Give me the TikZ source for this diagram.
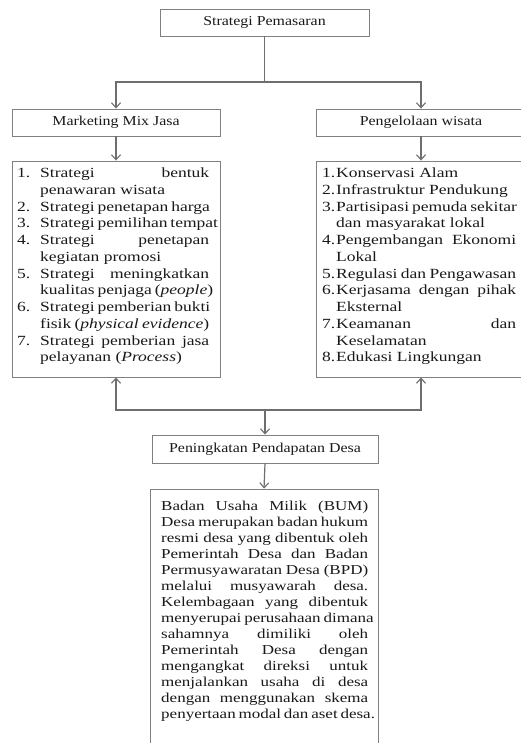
\documentclass[tikz,border=0pt]{standalone}
\usepackage{fontspec}
\setmainfont{Liberation Serif}[FakeStretch=1.17, ItalicFont={* Italic}]
\newfontfamily\listfont{Liberation Serif}[FakeStretch=1.25, ItalicFont={* Italic}]
\usetikzlibrary{arrows.meta,calc}
\definecolor{ln}{RGB}{110,110,110}
\definecolor{bx}{RGB}{128,128,128}
\definecolor{tx}{RGB}{25,25,25}
\tikzset{
  box/.style={draw=bx, line width=0.9pt, rectangle, inner sep=0pt, text=tx,
    font=\fontsize{13.6}{16}\selectfont},
  arr/.style={draw=ln, line width=1.2pt, -{Straight Barb[length=5pt,width=9pt,line width=1.1pt]}},
  ln/.style={draw=ln, line width=1.2pt},
  txt/.style={inner sep=0pt, anchor=north west, text=tx}
}
\newlength\LW \newlength\IN
% first line of an item: justified / natural; continuation line: justified / natural
\newcommand{\FJ}[2]{\hbox to \LW{\makebox[\IN][l]{#1}#2}}
\newcommand{\FN}[2]{\hbox to \LW{\makebox[\IN][l]{#1}#2\hfil}}
\newcommand{\CJ}[1]{\hbox to \LW{\kern\IN #1}}
\newcommand{\CN}[1]{\hbox to \LW{\kern\IN #1\hfil}}
\begin{document}
\begin{tikzpicture}[x=1pt,y=-1pt]
\clip (0,0) rectangle (521,743);
\fill[white] (0,0) rectangle (521,743);
% boxes
\node[box, minimum width=209pt, minimum height=27pt] (sp) at (264.5,22.5) {Strategi Pemasaran};
\node[box, minimum width=208pt, minimum height=27pt] (mmj) at (116,122.5) {Marketing Mix Jasa};
\node[box, minimum width=210pt, minimum height=27pt] (pw) at (421,122.5) {Pengelolaan wisata};
\node[box, minimum width=208pt, minimum height=216pt] (ll) at (116,269) {};
\node[box, minimum width=210pt, minimum height=216pt] (rl) at (421,269) {};
\node[box, minimum width=226pt, minimum height=28pt] (pd) at (265,449) {Peningkatan Pendapatan Desa};
\node[box, minimum width=228pt, minimum height=280pt] (bb) at (264,629) {};
% list texts
\node[txt] (llt) at (17,167.6) {\parbox[t]{192pt}{\listfont\fontsize{14}{16.75}\selectfont
\setlength\LW{192pt}\setlength\IN{23pt}
\FJ{1.}{Strategi bentuk}
\CN{penawaran wisata}
\FN{2.}{Strategi penetapan harga}
\FN{3.}{Strategi pemilihan tempat}
\FJ{4.}{Strategi penetapan}
\CN{kegiatan promosi}
\FJ{5.}{Strategi meningkatkan}
\CN{kualitas penjaga (\textit{people})}
\FJ{6.}{Strategi pemberian bukti}
\CN{fisik (\textit{physical evidence})}
\FJ{7.}{Strategi pemberian jasa}
\CN{pelayanan (\textit{Process})}}};
\node[txt] (rlt) at (322,167.6) {\parbox[t]{194pt}{\listfont\fontsize{14}{16.75}\selectfont
\setlength\LW{194pt}\setlength\IN{14pt}
\FN{1.}{Konservasi Alam}
\FN{2.}{Infrastruktur Pendukung}
\FJ{3.}{Partisipasi pemuda sekitar}
\CN{dan masyarakat lokal}
\FJ{4.}{Pengembangan Ekonomi}
\CN{Lokal}
\FN{5.}{Regulasi dan Pengawasan}
\FJ{6.}{Kerjasama dengan pihak}
\CN{Eksternal}
\FJ{7.}{Keamanan dan}
\CN{Keselamatan}
\FN{8.}{Edukasi Lingkungan}}};
\node[txt] (bbt) at (161,500.5) {\parbox[t]{207pt}{\listfont\fontsize{13.6}{16}\selectfont
\setlength\LW{207pt}\setlength\IN{0pt}
\CJ{Badan Usaha Milik (BUM)}
\CJ{Desa merupakan badan hukum}
\CJ{resmi desa yang dibentuk oleh}
\CJ{Pemerintah Desa dan Badan}
\CJ{Permusyawaratan Desa (BPD)}
\CJ{melalui musyawarah desa.}
\CJ{Kelembagaan yang dibentuk}
\CJ{menyerupai perusahaan dimana}
\CJ{sahamnya dimiliki oleh}
\CJ{Pemerintah Desa dengan}
\CJ{mengangkat direksi untuk}
\CJ{menjalankan usaha di desa}
\CJ{dengan menggunakan skema}
\CN{penyertaan modal dan aset desa.}}};
% connectors
\coordinate (s) at (264.5,82);
\coordinate (j) at (265,410);
\draw[ln] (sp.south) -- (s);
\draw[arr] (s) -| (mmj.north);
\draw[arr] (s) -| (pw.north);
\draw[arr] (mmj.south) -- (ll.north);
\draw[arr] (pw.south) -- (rl.north);
\draw[arr] (j) -| (ll.south);
\draw[arr] (j) -| (rl.south);
\draw[arr] (j) -- (pd.north);
\draw[arr] (pd.south) -- (bb.north);
\end{tikzpicture}
\end{document}
